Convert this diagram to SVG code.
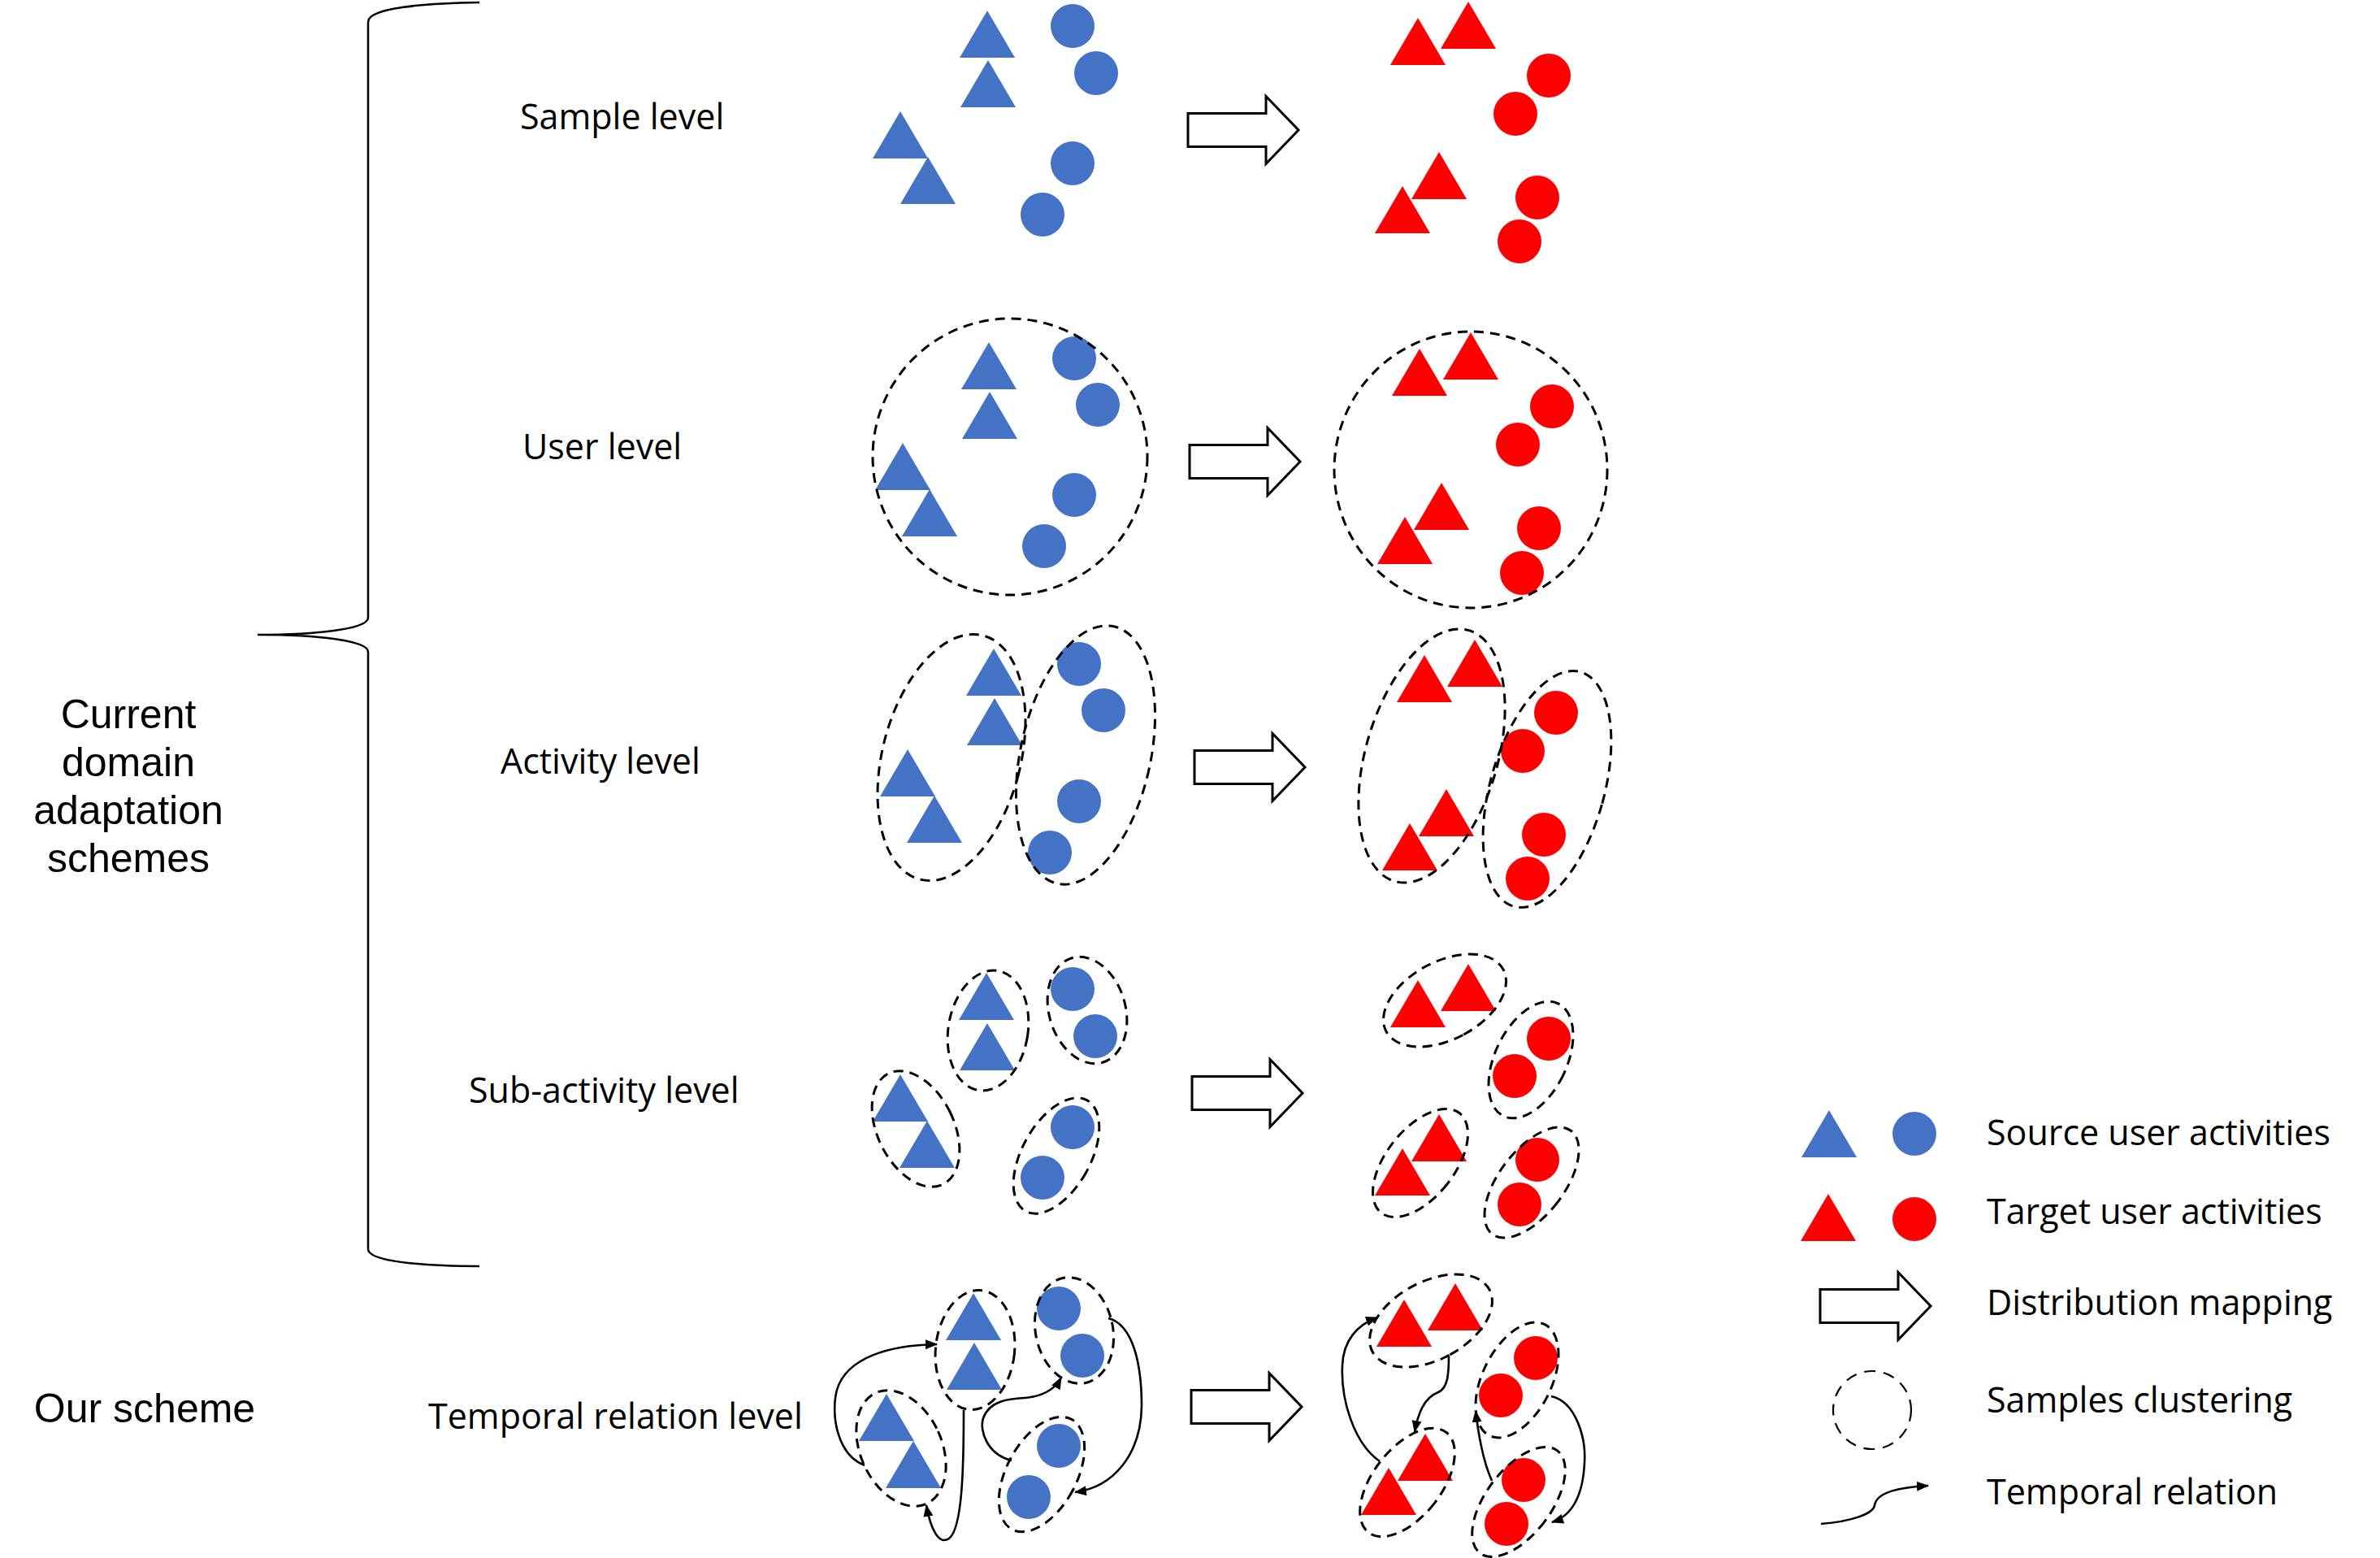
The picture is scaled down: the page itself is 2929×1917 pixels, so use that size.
<svg xmlns="http://www.w3.org/2000/svg" xmlns:xlink="http://www.w3.org/1999/xlink" width="2929" height="1917" viewBox="0 0 2929 1917">
<style>
.b{fill:#4472C4}
.r{fill:#FF0000}
.cl{fill:none;stroke:#000;stroke-width:3;stroke-dasharray:12 8}
.blk{fill:#fff;stroke:#000;stroke-width:3}
.tr{fill:none;stroke:#000;stroke-width:2.6}
.lab{font-family:"Open Sans","Noto Sans",sans-serif;font-size:43px;fill:#000}
.big{font-family:"Liberation Sans",Arial,sans-serif;font-size:50px;fill:#000;text-anchor:middle}
</style>
<defs>
<path id="tri" d="M0,0 L34,58 L-34,58 Z"/>
<path id="blk" d="M0,-20.5 H96 V-41.5 L136,0 L96,41.5 V20.5 H0 Z"/>
<marker id="ah" markerUnits="userSpaceOnUse" markerWidth="16" markerHeight="14" refX="14" refY="6" orient="auto">
<path d="M0,0 L15,6 L0,12 Z" fill="#000"/>
</marker>
</defs>
<rect width="2929" height="1917" fill="#fff"/>

<g id="brace">
<path d="M590,3 C520,4 453,10 453,27 L453,760 C453,774 390,781 317,781 C390,781 453,788 453,802 L453,1537 C453,1552 520,1558 590,1558" fill="none" stroke="#000" stroke-width="2.5"/>
</g>

<g id="left-labels">
<text class="big" x="158" y="896">Current</text>
<text class="big" x="158" y="955">domain</text>
<text class="big" x="158" y="1014">adaptation</text>
<text class="big" x="158" y="1073">schemes</text>
<text class="big" x="178" y="1750">Our scheme</text>
</g>

<g id="level-labels">
<text class="lab" x="640" y="159">Sample level</text>
<text class="lab" x="643" y="565">User level</text>
<text class="lab" x="616" y="952">Activity level</text>
<text class="lab" x="577" y="1357">Sub-activity level</text>
<text class="lab" x="527" y="1758">Temporal relation level</text>
</g>

<g id="row-sample">
<use xlink:href="#tri" class="b" x="1215" y="13"/>
<use xlink:href="#tri" class="b" x="1216" y="74"/>
<use xlink:href="#tri" class="b" x="1142" y="193"/>
<use xlink:href="#tri" class="b" x="1108" y="137"/>
<circle class="b" cx="1320" cy="32" r="27"/>
<circle class="b" cx="1349" cy="90" r="27"/>
<circle class="b" cx="1320" cy="201" r="27"/>
<circle class="b" cx="1283" cy="264" r="27"/>
<use xlink:href="#blk" class="blk" x="1462" y="160"/>
<use xlink:href="#tri" class="r" x="1745" y="22"/>
<use xlink:href="#tri" class="r" x="1807" y="2"/>
<use xlink:href="#tri" class="r" x="1771" y="187"/>
<use xlink:href="#tri" class="r" x="1726" y="229"/>
<circle class="r" cx="1906" cy="93" r="27"/>
<circle class="r" cx="1865" cy="140" r="27"/>
<circle class="r" cx="1892" cy="243" r="27"/>
<circle class="r" cx="1870" cy="297" r="27"/>
</g>

<g id="row-user">
<use xlink:href="#tri" class="b" x="1217" y="421"/>
<use xlink:href="#tri" class="b" x="1218" y="482"/>
<use xlink:href="#tri" class="b" x="1144" y="602"/>
<use xlink:href="#tri" class="b" x="1111" y="545"/>
<circle class="b" cx="1322" cy="441" r="27"/>
<circle class="b" cx="1351" cy="498" r="27"/>
<circle class="b" cx="1322" cy="609" r="27"/>
<circle class="b" cx="1285" cy="672" r="27"/>
<ellipse class="cl" cx="1243" cy="562" rx="169" ry="170"/>
<use xlink:href="#blk" class="blk" x="1464" y="568"/>
<use xlink:href="#tri" class="r" x="1747" y="429"/>
<use xlink:href="#tri" class="r" x="1810" y="409"/>
<use xlink:href="#tri" class="r" x="1774" y="594"/>
<use xlink:href="#tri" class="r" x="1729" y="636"/>
<circle class="r" cx="1910" cy="500" r="27"/>
<circle class="r" cx="1868" cy="547" r="27"/>
<circle class="r" cx="1894" cy="650" r="27"/>
<circle class="r" cx="1873" cy="705" r="27"/>
<ellipse class="cl" cx="1810" cy="578" rx="168" ry="170"/>
</g>

<g id="row-activity">
<use xlink:href="#tri" class="b" x="1223" y="798"/>
<use xlink:href="#tri" class="b" x="1224" y="859"/>
<use xlink:href="#tri" class="b" x="1150" y="979"/>
<use xlink:href="#tri" class="b" x="1117" y="922"/>
<circle class="b" cx="1328" cy="817" r="27"/>
<circle class="b" cx="1358" cy="874" r="27"/>
<circle class="b" cx="1328" cy="986" r="27"/>
<circle class="b" cx="1292" cy="1049" r="27"/>
<ellipse class="cl" cx="1171" cy="932" rx="85" ry="155" transform="rotate(14.5 1171 932)"/>
<ellipse class="cl" cx="1336" cy="929" rx="80" ry="162" transform="rotate(12.4 1336 929)"/>
<use xlink:href="#blk" class="blk" x="1470" y="944"/>
<use xlink:href="#tri" class="r" x="1753" y="806"/>
<use xlink:href="#tri" class="r" x="1815" y="787"/>
<use xlink:href="#tri" class="r" x="1780" y="971"/>
<use xlink:href="#tri" class="r" x="1735" y="1013"/>
<circle class="r" cx="1915" cy="877" r="27"/>
<circle class="r" cx="1874" cy="924" r="27"/>
<circle class="r" cx="1900" cy="1027" r="27"/>
<circle class="r" cx="1880" cy="1081" r="27"/>
<ellipse class="cl" cx="1762" cy="930" rx="81" ry="161" transform="rotate(16.5 1762 930)"/>
<ellipse class="cl" cx="1904" cy="971" rx="70" ry="150" transform="rotate(15.9 1904 971)"/>
</g>

<g id="row-subactivity">
<use xlink:href="#tri" class="b" x="1214" y="1197"/>
<use xlink:href="#tri" class="b" x="1215" y="1259"/>
<use xlink:href="#tri" class="b" x="1141" y="1379"/>
<use xlink:href="#tri" class="b" x="1108" y="1322"/>
<circle class="b" cx="1320" cy="1217" r="27"/>
<circle class="b" cx="1348" cy="1275" r="27"/>
<circle class="b" cx="1320" cy="1387" r="27"/>
<circle class="b" cx="1283" cy="1449" r="27"/>
<ellipse class="cl" cx="1216" cy="1268" rx="49" ry="74.5" transform="rotate(9.2 1216 1268)"/>
<ellipse class="cl" cx="1338" cy="1243" rx="47" ry="67" transform="rotate(-16.4 1338 1243)"/>
<ellipse class="cl" cx="1127" cy="1389" rx="47" ry="76" transform="rotate(-26.2 1127 1389)"/>
<ellipse class="cl" cx="1300" cy="1422" rx="42" ry="78" transform="rotate(29.1 1300 1422)"/>
<use xlink:href="#blk" class="blk" x="1467" y="1345"/>
<use xlink:href="#tri" class="r" x="1745" y="1206"/>
<use xlink:href="#tri" class="r" x="1807" y="1186"/>
<use xlink:href="#tri" class="r" x="1771" y="1371"/>
<use xlink:href="#tri" class="r" x="1726" y="1413"/>
<circle class="r" cx="1906" cy="1278" r="27"/>
<circle class="r" cx="1864" cy="1324" r="27"/>
<circle class="r" cx="1892" cy="1427" r="27"/>
<circle class="r" cx="1870" cy="1482" r="27"/>
<ellipse class="cl" cx="1778" cy="1231" rx="48" ry="81.5" transform="rotate(62.2 1778 1231)"/>
<ellipse class="cl" cx="1884" cy="1304" rx="44" ry="77" transform="rotate(26 1884 1304)"/>
<ellipse class="cl" cx="1748" cy="1431" rx="42" ry="78" transform="rotate(38.3 1748 1431)"/>
<ellipse class="cl" cx="1885" cy="1455" rx="40" ry="80" transform="rotate(37.4 1885 1455)"/>
</g>

<g id="row-temporal">
<use xlink:href="#tri" class="b" x="1198" y="1591"/>
<use xlink:href="#tri" class="b" x="1199" y="1652"/>
<use xlink:href="#tri" class="b" x="1124" y="1773"/>
<use xlink:href="#tri" class="b" x="1091" y="1715"/>
<circle class="b" cx="1303" cy="1610" r="27"/>
<circle class="b" cx="1332" cy="1668" r="27"/>
<circle class="b" cx="1303" cy="1779" r="27"/>
<circle class="b" cx="1266" cy="1842" r="27"/>
<ellipse class="cl" cx="1200" cy="1661" rx="48.6" ry="73.7" transform="rotate(6.1 1200 1661)"/>
<ellipse class="cl" cx="1322" cy="1637" rx="47.5" ry="66" transform="rotate(-12.4 1322 1637)"/>
<ellipse class="cl" cx="1109" cy="1782" rx="50" ry="75" transform="rotate(-24.6 1109 1782)"/>
<ellipse class="cl" cx="1282" cy="1814" rx="43" ry="77" transform="rotate(28.4 1282 1814)"/>
<use xlink:href="#blk" class="blk" x="1466" y="1731"/>
<use xlink:href="#tri" class="r" x="1728" y="1599"/>
<use xlink:href="#tri" class="r" x="1791" y="1579"/>
<use xlink:href="#tri" class="r" x="1754" y="1764"/>
<use xlink:href="#tri" class="r" x="1709" y="1806"/>
<circle class="r" cx="1890" cy="1671" r="27"/>
<circle class="r" cx="1847" cy="1717" r="27"/>
<circle class="r" cx="1875" cy="1821" r="27"/>
<circle class="r" cx="1854" cy="1875" r="27"/>
<ellipse class="cl" cx="1761" cy="1625" rx="48" ry="81.5" transform="rotate(62 1761 1625)"/>
<ellipse class="cl" cx="1867" cy="1698" rx="42.4" ry="76.4" transform="rotate(26.5 1867 1698)"/>
<ellipse class="cl" cx="1732" cy="1824" rx="42" ry="78" transform="rotate(38 1732 1824)"/>
<ellipse class="cl" cx="1869" cy="1848" rx="40" ry="79" transform="rotate(37 1869 1848)"/>
</g>

<g id="connectors">
<path class="tr" marker-end="url(#ah)" d="M1064,1803 C1030,1790 1022,1740 1030,1710 C1042,1670 1095,1655 1153,1654"/>
<path class="tr" marker-end="url(#ah)" d="M1186,1735 C1186,1800 1185,1880 1168,1893 C1155,1902 1145,1880 1140,1852"/>
<path class="tr" marker-end="url(#ah)" d="M1245,1797 C1215,1790 1205,1760 1210,1745 C1218,1722 1245,1721 1262,1720 C1282,1718 1298,1710 1306,1695"/>
<path class="tr" marker-end="url(#ah)" d="M1364,1622 C1395,1630 1405,1680 1405,1730 C1404,1790 1370,1830 1323,1836"/>
<path class="tr" marker-end="url(#ah)" d="M1698,1798 C1665,1775 1650,1720 1652,1680 C1653,1650 1670,1630 1695,1621"/>
<path class="tr" marker-end="url(#ah)" d="M1783,1668 C1783,1690 1782,1708 1770,1713 C1752,1720 1745,1740 1741,1762"/>
<path class="tr" marker-end="url(#ah)" d="M1836,1822 C1826,1800 1820,1770 1816,1736"/>
<path class="tr" marker-end="url(#ah)" d="M1909,1718 C1940,1725 1952,1770 1950,1800 C1948,1840 1935,1865 1910,1873"/>
</g>

<g id="legend">
<use xlink:href="#tri" class="b" x="2251" y="1366"/>
<circle class="b" cx="2356" cy="1395" r="27"/>
<use xlink:href="#tri" class="r" x="2250" y="1469"/>
<circle class="r" cx="2356" cy="1500" r="27"/>
<use xlink:href="#blk" class="blk" x="2240" y="1607"/>
<circle cx="2304" cy="1735" r="48" fill="none" stroke="#000" stroke-width="2.2" stroke-dasharray="14 10"/>
<path class="tr" marker-end="url(#ah)" d="M2241,1875 C2280,1872 2306,1862 2307,1852 C2310,1835 2340,1830 2373,1828"/>
<text class="lab" x="2445" y="1409">Source user activities</text>
<text class="lab" x="2445" y="1506">Target user activities</text>
<text class="lab" x="2445" y="1618">Distribution mapping</text>
<text class="lab" x="2445" y="1738">Samples clustering</text>
<text class="lab" x="2445" y="1851">Temporal relation</text>
</g>
</svg>
